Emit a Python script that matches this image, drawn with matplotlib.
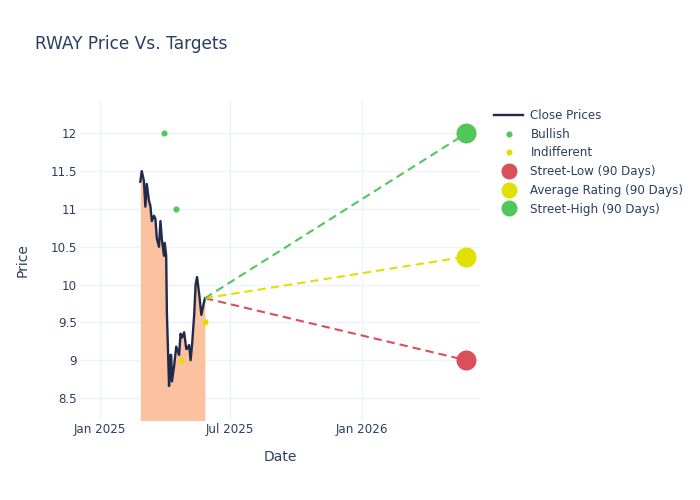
import matplotlib
matplotlib.use("Agg")
import matplotlib.dates as mdates
import matplotlib.pyplot as plt
import pandas as pd

dates = ["2025-02-26", "2025-02-28", "2025-03-03", "2025-03-05", "2025-03-07", "2025-03-10",
         "2025-03-12", "2025-03-14", "2025-03-17", "2025-03-19", "2025-03-21", "2025-03-24",
         "2025-03-26", "2025-03-28", "2025-03-31", "2025-04-01", "2025-04-03", "2025-04-04",
         "2025-04-07", "2025-04-09", "2025-04-10", "2025-04-11", "2025-04-14", "2025-04-17",
         "2025-04-21", "2025-04-23", "2025-04-25", "2025-04-28", "2025-05-01", "2025-05-02",
         "2025-05-05", "2025-05-07", "2025-05-09", "2025-05-12", "2025-05-14", "2025-05-16",
         "2025-05-19", "2025-05-22", "2025-05-26", "2025-05-27"]
close_prices = [11.36, 11.50, 11.37, 11.03, 11.33, 11.11,
                11.04, 10.84, 10.91, 10.87, 10.61, 10.50,
                10.84, 10.60, 10.38, 10.55, 10.38, 9.62,
                8.66, 9.07, 9.07, 8.72, 8.92, 9.18,
                9.07, 9.35, 9.30, 9.37, 9.15, 9.15,
                9.20, 9.00, 9.20, 9.60, 10.00, 10.10,
                9.87, 9.60, 9.78, 9.82]

bullish_dates = ["2025-03-31", "2025-04-16"]
bullish_values = [12.0, 11.0]
indifferent_dates = ["2025-04-23", "2025-05-27"]
indifferent_values = [9.0, 9.5]

target_date = "2026-05-26"
street_low = 9.0
average_rating = 10.37
street_high = 12.0

x_ticks = ["2025-01-01", "2025-07-01", "2026-01-01"]
x_tick_labels = ["Jan 2025", "Jul 2025", "Jan 2026"]
y_ticks = [8.5, 9, 9.5, 10, 10.5, 11, 11.5, 12]
y_tick_labels = ["8.5", "9", "9.5", "10", "10.5", "11", "11.5", "12"]

TEXT = "#2a3f5f"
GREEN = "#50c75a"
YELLOW = "#e2e000"
RED = "#d94f5a"

close_dates = pd.to_datetime(dates)
end = pd.Timestamp(target_date)

fig = plt.figure(figsize=(7, 5), dpi=100)
ax = fig.add_axes([80 / 700, 80 / 500, 400 / 700, 320 / 500])

ax.fill_between(close_dates, close_prices, 8.0, color="#fcc2a0", linewidth=0, zorder=2)
line, = ax.plot(close_dates, close_prices, color="#1f2a4d", lw=1.7, zorder=3, label="Close Prices")

bullish, = ax.plot(pd.to_datetime(bullish_dates), bullish_values, "o", color=GREEN, ms=4.4,
                   mew=0, zorder=5, label="Bullish")
indifferent, = ax.plot(pd.to_datetime(indifferent_dates), indifferent_values, "o", color=YELLOW,
                       ms=4.4, mew=0, zorder=5, label="Indifferent")

# dashed lines run from the last close out to each target
handles = [line, bullish, indifferent]
for value, color, label in [(street_low, RED, "Street-Low (90 Days)"),
                            (average_rating, YELLOW, "Average Rating (90 Days)"),
                            (street_high, GREEN, "Street-High (90 Days)")]:
    ax.plot([close_dates[-1], end], [close_prices[-1], value], color=color, lw=1.5,
            dashes=(4, 2.4), zorder=4)
    h, = ax.plot([end], [value], "o", color=color, ms=14.4, mew=0, zorder=6, label=label)
    handles.append(h)

ax.set_xlim(pd.Timestamp("2024-12-04"), pd.Timestamp("2026-06-14"))
ax.set_ylim(8.21, 12.44)
ax.set_xticks(mdates.date2num(pd.to_datetime(x_ticks)))
ax.set_xticklabels(x_tick_labels)
ax.set_yticks(y_ticks)
ax.set_yticklabels(y_tick_labels)
ax.tick_params(length=0, labelsize=8.6, labelcolor=TEXT, pad=2)
ax.grid(True, color="#eef2f9", lw=1)
ax.set_axisbelow(True)
for spine in ax.spines.values():
    spine.set_visible(False)

ax.set_xlabel("Date", fontsize=10, color=TEXT, labelpad=10)
ax.set_ylabel("Price", fontsize=10, color=TEXT, labelpad=15)
fig.text(35 / 700, 1 - 44 / 500, "RWAY Price Vs. Targets", fontsize=12.25, color=TEXT, va="center")

legend = ax.legend(handles=handles, loc="upper left", bbox_to_anchor=(494 / 700, 1 - 109 / 500),
                   bbox_transform=fig.transFigure, frameon=False, fontsize=8.6, labelcolor=TEXT,
                   labelspacing=0.48, handlelength=2.45, handletextpad=0.6, borderpad=0,
                   borderaxespad=0)
# the target dots are drawn smaller in the legend than on the chart
for handle in legend.legend_handles[3:]:
    handle.set_markersize(11.5)

fig.savefig("out.png", dpi=100)
plt.close(fig)
